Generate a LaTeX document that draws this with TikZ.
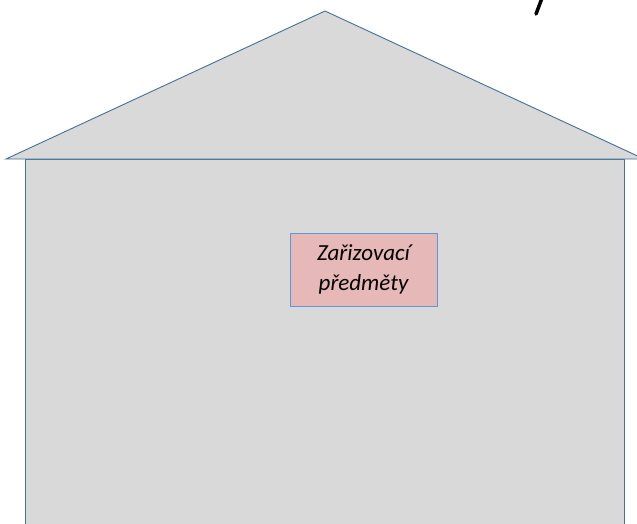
\documentclass[tikz,border=0pt]{standalone}
\usepackage{fontspec}
\setmainfont{Carlito}
\definecolor{wallgray}{HTML}{D9D9D9}
\definecolor{edgeblue}{HTML}{41719C}
\definecolor{boxpink}{HTML}{E6B8B7}
\definecolor{boxblue}{HTML}{5B9BD5}

\begin{document}
\begin{tikzpicture}[x=1pt,y=-1pt]

	\tikzstyle{part} = [fill=wallgray, draw=edgeblue, line width=0.9pt, line join=miter]
	\tikzstyle{item} = [rectangle, draw=boxblue, fill=boxpink, line width=0.9pt, minimum width=147pt, minimum height=73pt, align=center, font=\fontsize{23}{30}\selectfont\itshape]

	\useasboundingbox (0,0) rectangle (637,524);
	\clip (0,0) rectangle (637,524);

	% walls and roof
	\draw [part] (25,159) rectangle (624,540);
	\draw [part] (6,159) -- (325,11) -- (644,159) -- cycle;

	% stroke of a letter cut off at the top
	\draw [line width=3.5pt, line cap=round] (542,-2) -- (536,14);

	\node [item] (predmety) at (363.5,269.5) {Zařizovací\\předměty};

\end{tikzpicture}
\end{document}
